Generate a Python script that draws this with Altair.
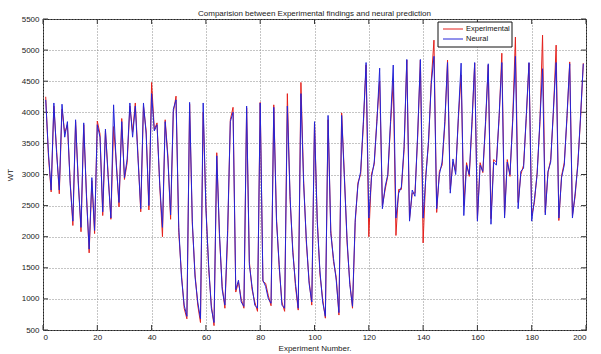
import altair as alt
import pandas as pd

# ---- data ----
experimental = [
    4250, 3300, 2720, 4100, 3400, 2690, 4050, 3670, 3800, 2900,
    2180, 3850, 2900, 2080, 3800, 2700, 1740, 2900, 2050, 3860,
    3650, 2340, 3700, 3000, 2280, 3770, 3200, 2480, 3900, 2920,
    3190, 4100, 3680, 4150, 3300, 2400, 4100, 3700, 2430, 4480,
    3720, 3830, 2820, 2000, 3880, 3300, 2280, 4000, 4260, 2070,
    1400, 850, 680, 4130, 2200, 1400, 900, 620, 4000, 2500,
    1500, 900, 570, 3350, 2000, 1200, 850, 2000, 3880, 4080,
    1110, 1270, 1000, 850, 4070, 1600, 1150, 950, 800, 4160,
    1280, 1250, 1050, 890, 4120, 2300, 1500, 950, 800, 4300,
    2600, 1800, 1200, 820, 4480, 2900, 1900, 1300, 900, 3830,
    2300, 1400, 1000, 690, 3880, 2100, 1600, 1350, 740, 3990,
    3000, 1900, 1270, 850, 2230, 2870, 3000, 3800, 4760, 2000,
    3010, 3160, 3900, 4500, 2500, 2750, 2980, 3800, 4500, 2020,
    2760, 2760, 3400, 4840, 2290, 2700, 2700, 3600, 4840, 1900,
    3000, 3500, 4500, 5160, 2390, 3050, 3150, 3800, 4840, 2760,
    3200, 3050, 3900, 4600, 2500, 3190, 2970, 3800, 4790, 2290,
    3190, 3030, 3800, 4760, 2290, 3240, 3200, 3900, 4950, 2340,
    3240, 2970, 3900, 5210, 2550, 3000, 3150, 3900, 4790, 2340,
    2550, 3030, 3800, 5240, 2390, 3030, 3240, 4000, 5080, 2260,
    2980, 3190, 3900, 4810, 2340, 2650, 3190, 3900, 4790,
]
neural = [
    4200, 3350, 2750, 4150, 3350, 2750, 4130, 3600, 3850, 2850,
    2250, 3880, 2850, 2150, 3830, 2650, 1800, 2950, 2100, 3800,
    3600, 2400, 3730, 2950, 2300, 4120, 3150, 2550, 3850, 2950,
    3250, 4150, 3600, 4100, 3250, 2450, 4150, 3650, 2500, 4300,
    3700, 3800, 2850, 2150, 3850, 3250, 2350, 4050, 4200, 2150,
    1350, 900, 720, 4160, 2250, 1350, 950, 680, 4150, 2450,
    1550, 850, 620, 3300, 2050, 1150, 900, 2100, 3850, 4000,
    1150, 1300, 950, 880, 4100, 1550, 1200, 900, 850, 4150,
    1300, 1200, 1000, 930, 4080, 2250, 1550, 900, 850, 4100,
    2650, 1750, 1250, 850, 4300, 2850, 1950, 1250, 950, 3850,
    2250, 1450, 950, 720, 3950, 2050, 1650, 1300, 780, 3950,
    2950, 1950, 1230, 880, 2280, 2830, 3050, 3850, 4800, 2300,
    2950, 3200, 3850, 4710, 2450, 2800, 3000, 3850, 4760, 2300,
    2700, 2800, 3450, 4850, 2250, 2750, 2650, 3650, 4850, 2300,
    2950, 3550, 4450, 4900, 2450, 3000, 3200, 3850, 4800, 2700,
    3250, 3000, 3950, 4790, 2340, 3150, 3000, 3850, 4800, 2250,
    3150, 3050, 3850, 4780, 2200, 3200, 3150, 3950, 4800, 2300,
    3200, 3000, 3850, 4900, 2450, 3050, 3100, 3950, 4800, 2250,
    2600, 3000, 3850, 4700, 2350, 3050, 3200, 4050, 4800, 2300,
    2950, 3150, 3950, 4780, 2300, 2700, 3150, 3950, 4780,
]
x_ticks = [0, 20, 40, 60, 80, 100, 120, 140, 160, 180, 200]
y_ticks = [500, 1000, 1500, 2000, 2500, 3000, 3500, 4000, 4500, 5000, 5500]
series_names = ["Experimental", "Neural"]
series_colors = ["#e4201c", "#2424d8"]

title_text = "Comparision between Experimental findings and neural prediction"
x_title = "Experiment Number."
y_title = "WT"

idx = list(range(1, len(experimental) + 1))
df = pd.concat([
    pd.DataFrame({"n": idx, "WT": experimental, "series": series_names[0]}),
    pd.DataFrame({"n": idx, "WT": neural, "series": series_names[1]}),
], ignore_index=True)
xt = pd.DataFrame({"t": x_ticks})
yt = pd.DataFrame({"t": y_ticks})
one = pd.DataFrame({"k": [0]})

W, H = 543, 311
FONT = "Liberation Sans"
xs = alt.Scale(domain=[0, 200], nice=False, zero=False)
ys = alt.Scale(domain=[500, 5500], nice=False, zero=False)

x_axis = alt.Axis(values=x_ticks, title=x_title, format="d")
y_axis = alt.Axis(values=y_ticks, title=y_title, format="d")

lines = alt.Chart(df).mark_line(strokeWidth=1, clip=True).encode(
    x=alt.X("n:Q", scale=xs, axis=x_axis),
    y=alt.Y("WT:Q", scale=ys, axis=y_axis),
    color=alt.Color("series:N",
                    scale=alt.Scale(domain=series_names, range=series_colors),
                    legend=None),
)

tick_color = "#333"
bottom_ticks = alt.Chart(xt).mark_rule(color=tick_color, strokeWidth=1).encode(
    x=alt.X("t:Q", scale=xs, axis=x_axis), y=alt.value(H), y2=alt.value(H - 5))
top_ticks = alt.Chart(xt).mark_rule(color=tick_color, strokeWidth=1).encode(
    x=alt.X("t:Q", scale=xs, axis=x_axis), y=alt.value(0), y2=alt.value(5))
left_ticks = alt.Chart(yt).mark_rule(color=tick_color, strokeWidth=1).encode(
    y=alt.Y("t:Q", scale=ys, axis=y_axis), x=alt.value(0), x2=alt.value(5))
right_ticks = alt.Chart(yt).mark_rule(color=tick_color, strokeWidth=1).encode(
    y=alt.Y("t:Q", scale=ys, axis=y_axis), x=alt.value(W), x2=alt.value(W - 5))

# legend box (MATLAB style, inside the plot, top right)
LX, LY, LW, LH = 395, 3, 74, 25
legend_box = alt.Chart(one).mark_rect(fill="white", stroke="#111", strokeWidth=1).encode(
    x=alt.value(LX), x2=alt.value(LX + LW), y=alt.value(LY), y2=alt.value(LY + LH))
legend_layers = [legend_box]
for i, (name, colr) in enumerate(zip(series_names, series_colors)):
    yy = LY + 7 + 10 * i
    legend_layers.append(
        alt.Chart(one).mark_rule(color=colr, strokeWidth=1).encode(
            x=alt.value(LX + 5), x2=alt.value(LX + 25), y=alt.value(yy)))
    legend_layers.append(
        alt.Chart(one).mark_text(align="left", baseline="middle", font=FONT,
                                 fontSize=7.5, color="#111").encode(
            x=alt.value(LX + 28), y=alt.value(yy), text=alt.value(name)))

chart = alt.layer(
    bottom_ticks, top_ticks, left_ticks, right_ticks, lines, *legend_layers
).properties(
    width=W,
    height=H,
    title=alt.TitleParams(title_text, fontSize=8, fontWeight="normal", font=FONT,
                          color="#222", anchor="middle", offset=-3),
    autosize=alt.AutoSizeParams(type="none"),
    padding={"left": 43, "top": 19, "right": 15, "bottom": 24},
    background="white",
).configure_view(
    stroke="#222", strokeWidth=1
).configure_axis(
    grid=True,
    gridColor="#8a8a8a",
    gridDash=[1, 2],
    gridWidth=1,
    domain=False,
    ticks=False,
    labelFont=FONT,
    labelFontSize=8,
    labelColor="#222",
    titleFont=FONT,
    titleFontSize=8,
    titleFontWeight="normal",
    titleColor="#222",
).configure_axisX(
    labelPadding=3, titlePadding=3
).configure_axisY(
    labelPadding=4, titlePadding=7
)

chart.save("out.html", embed_options={"renderer": "svg", "actions": False})
